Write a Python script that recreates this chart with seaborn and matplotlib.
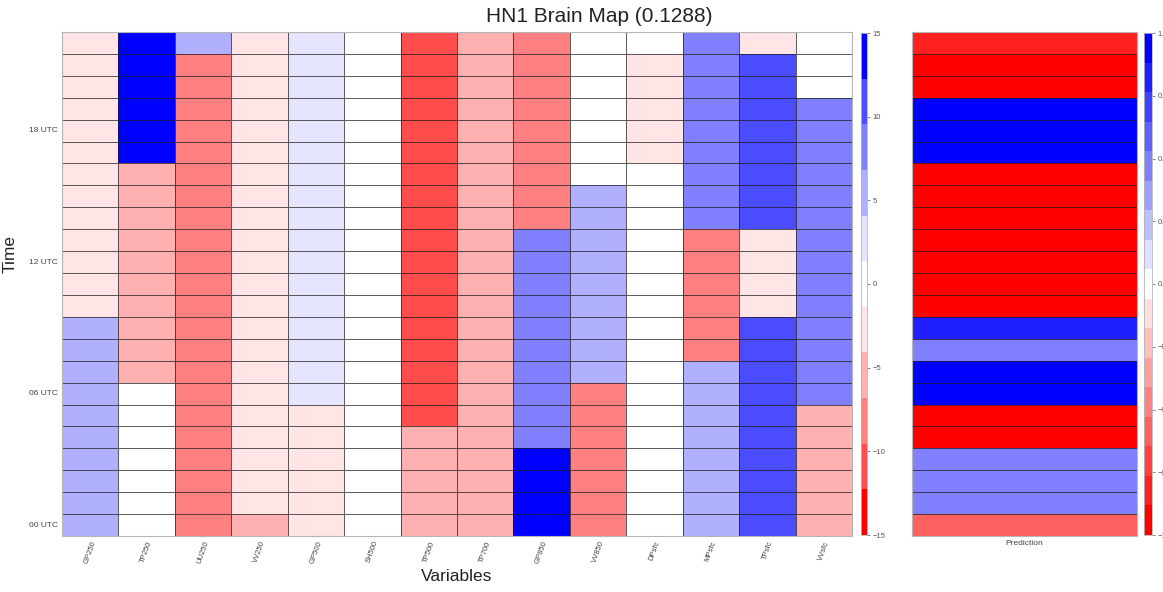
import numpy as np
import pandas as pd
import matplotlib
matplotlib.use("Agg")
import matplotlib.pyplot as plt
from matplotlib.colors import ListedColormap, BoundaryNorm
import seaborn as sns

sns.set_theme(style="white")
plt.rcParams['font.family'] = ['Liberation Sans', 'DejaVu Sans']

# ---------------- data (rows top -> bottom : 22 UTC ... 00 UTC) ----------------
variables = ["GP250", "TP250", "UU250", "VV250", "GP500", "SH500", "TP500",
             "TP700", "GP850", "VV850", "DPsfc", "MPsfc", "TPsfc", "VVsfc"]

GP250 = [-3, -3, -3, -3, -3, -3, -3, -3, -3, -3, -3, -3, -3,
         5.5, 5.5, 5.5, 5.5, 5.5, 5.5, 5.5, 5.5, 5.5, 5.5]
TP250 = [14, 14, 14, 14, 14, 14,
         -5.5, -5.5, -5.5, -5.5, -5.5, -5.5, -5.5, -5.5, -5.5, -5.5,
         0, 0, 0, 0, 0, 0, 0]
UU250 = [5.5, -8, -8, -8, -8, -8, -8, -8, -8, -8, -8, -8,
         -8, -8, -8, -8, -8, -8, -8, -8, -8, -8, -8]
VV250 = [-3, -3, -3, -3, -3, -3, -3, -3, -3, -3, -3, -3,
         -3, -3, -3, -3, -3, -3, -3, -3, -3, -3, -5.5]
GP500 = [3, 3, 3, 3, 3, 3, 3, 3, 3, 3, 3, 3, 3, 3, 3, 3, 3,
         -3, -3, -3, -3, -3, -3]
SH500 = [0, 0, 0, 0, 0, 0, 0, 0, 0, 0, 0, 0,
         0, 0, 0, 0, 0, 0, 0, 0, 0, 0, 0]
TP500 = [-11, -11, -11, -11, -11, -11, -11, -11, -11, -11, -11, -11,
         -11, -11, -11, -11, -11, -11, -5.5, -5.5, -5.5, -5.5, -5.5]
TP700 = [-5.5, -5.5, -5.5, -5.5, -5.5, -5.5, -5.5, -5.5, -5.5, -5.5, -5.5, -5.5,
         -5.5, -5.5, -5.5, -5.5, -5.5, -5.5, -5.5, -5.5, -5.5, -5.5, -5.5]
GP850 = [-8, -8, -8, -8, -8, -8, -8, -8, -8,
         8, 8, 8, 8, 8, 8, 8, 8, 8, 8,
         14, 14, 14, 14]
VV850 = [0, 0, 0, 0, 0, 0, 0,
         5.5, 5.5, 5.5, 5.5, 5.5, 5.5, 5.5, 5.5, 5.5,
         -8, -8, -8, -8, -8, -8, -8]
DPsfc = [0, -3, -3, -3, -3, -3, 0, 0, 0, 0, 0, 0,
         0, 0, 0, 0, 0, 0, 0, 0, 0, 0, 0]
MPsfc = [8, 8, 8, 8, 8, 8, 8, 8, 8,
         -8, -8, -8, -8, -8, -8,
         5.5, 5.5, 5.5, 5.5, 5.5, 5.5, 5.5, 5.5]
TPsfc = [-3, 11, 11, 11, 11, 11, 11, 11, 11,
         -3, -3, -3, -3,
         11, 11, 11, 11, 11, 11, 11, 11, 11, 11]
VVsfc = [0, 0, 0,
         8, 8, 8, 8, 8, 8, 8, 8, 8, 8, 8, 8, 8, 8,
         -5.5, -5.5, -5.5, -5.5, -5.5, -5.5]

prediction = [-0.82, -0.95, -0.95, 0.95, 0.95, 0.95,
              -0.95, -0.95, -0.95, -0.95, -0.95, -0.95, -0.95,
              0.82, 0.47, 0.95, 0.95, -0.95, -0.95,
              0.47, 0.47, 0.47, -0.59]

time_tick_rows = [4, 10, 16, 22]
time_tick_labels = ["18 UTC", "12 UTC", "06 UTC", "00 UTC"]
cbar1_ticks = [-15, -10, -5, 0, 5, 10, 15]
cbar2_ticks = [-1, -0.75, -0.5, -0.25, 0, 0.25, 0.5, 0.75, 1]
title = "HN1 Brain Map (0.1288)"

# ---------------- build ----------------
df = pd.DataFrame({v: globals()[v] for v in variables})
pred_df = pd.DataFrame({"Prediction": prediction})

main_colors = ['#ff0000', '#ff4c4c', '#ff8080', '#ffb0b0', '#ffe5e5', '#ffffff',
               '#e5e5ff', '#b0b0ff', '#8080ff', '#4c4cff', '#0000ff']
cmap1 = ListedColormap(main_colors)
norm1 = BoundaryNorm(np.linspace(-15, 15, len(main_colors) + 1), cmap1.N)

pred_colors = []
for k in range(-8, 9):
    f = 1 - abs(k) / 8
    pred_colors.append((1, f, f) if k < 0 else (f, f, 1))
cmap2 = ListedColormap(pred_colors)
norm2 = BoundaryNorm(np.linspace(-1, 1, len(pred_colors) + 1), cmap2.N)

W, H = 1163, 592
fig = plt.figure(figsize=(W / 100, H / 100), dpi=100)
fig.patch.set_facecolor("white")

def fr(x0, y0, x1, y1):
    return [x0 / W, 1 - y1 / H, (x1 - x0) / W, (y1 - y0) / H]

ax = fig.add_axes(fr(62, 32, 852, 536))
cax1 = fig.add_axes(fr(861, 33, 867, 535))
axp = fig.add_axes(fr(912, 32, 1137, 536))
cax2 = fig.add_axes(fr(1144, 33, 1152, 535))

line_col = (0.1, 0.1, 0.1, 0.7)
sns.heatmap(df, ax=ax, cmap=cmap1, norm=norm1, cbar_ax=cax1,
            linewidths=0.7, linecolor=line_col,
            cbar_kws={"ticks": cbar1_ticks})
sns.heatmap(pred_df, ax=axp, cmap=cmap2, norm=norm2, cbar_ax=cax2,
            linewidths=0.7, linecolor=line_col,
            cbar_kws={"ticks": cbar2_ticks})

tick_col = "#444444"
ax.set_yticks([r + 0.5 for r in time_tick_rows])
ax.set_yticklabels(time_tick_labels, rotation=0, fontsize=6, color=tick_col)
ax.set_xticks(np.arange(len(variables)) + 0.5)
ax.set_xticklabels(variables, rotation=70, ha="center", va="top",
                   fontsize=5.5, color=tick_col)
ax.tick_params(axis="both", length=0, pad=3)
ax.set_xlabel("Variables", fontsize=12.5, color="#222222")
ax.set_ylabel("Time", fontsize=12.5, color="#222222")
ax.yaxis.set_label_coords(-0.056, 0.56)
ax.xaxis.set_label_coords(0.5, -0.066)

axp.set_yticks([])
axp.set_xticks([0.5])
axp.set_xticklabels(["Prediction"], rotation=0, fontsize=6, color=tick_col)
axp.tick_params(axis="x", length=0, pad=3)
axp.set_xlabel("")
axp.set_ylabel("")

for a in (ax, axp):
    for s in a.spines.values():
        s.set_visible(True)
        s.set_color("#b5b5b5")
        s.set_linewidth(0.8)

for a, c in ((ax, cax1), (axp, cax2)):
    cb = a.collections[0].colorbar
    cb.minorticks_off()
    c.tick_params(which="both", labelsize=5.5, length=2, width=0.5,
                  colors="#555555", pad=2)
    c.minorticks_off()
    cb.outline.set_edgecolor("#b5b5b5")
    cb.outline.set_linewidth(0.6)
    cb.outline.set_visible(True)

fig.text(599 / W, 1 - 17 / H, title, ha="center", va="center",
         fontsize=15, color="#222222")

fig.savefig("out.png", dpi=100)
